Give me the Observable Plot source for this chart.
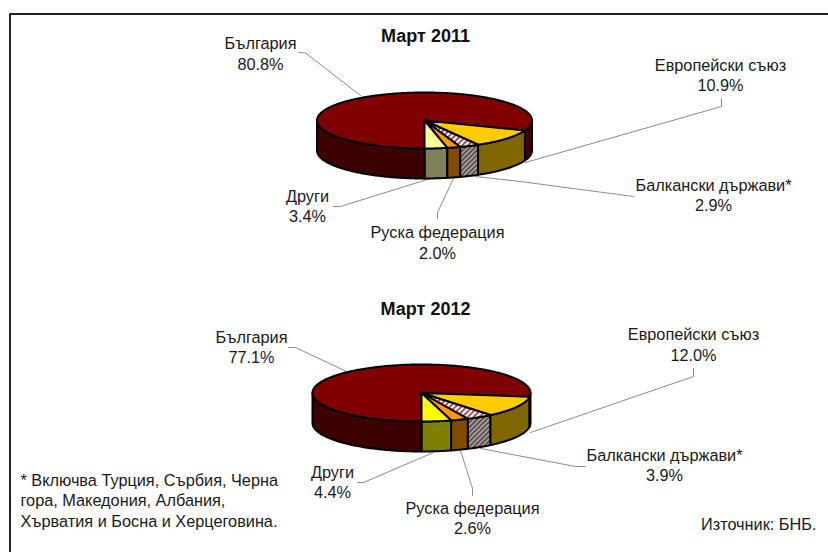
<!DOCTYPE html>
<html>
<head>
<meta charset="utf-8">
<style>
html,body{margin:0;padding:0;background:#fff;overflow:hidden}
svg{display:block}
</style>
<script src="https://cdn.jsdelivr.net/npm/d3@7"></script>
<script src="https://cdn.jsdelivr.net/npm/@observablehq/plot@0.6"></script>
</head>
<body>
<script>
// ---- data ----
const categories = ["Други", "Руска федерация", "Балкански държави*", "Европейски съюз", "България"];
const values2011 = [3.4, 2.0, 2.9, 10.9, 80.8];
const values2012 = [4.4, 2.6, 3.9, 12.0, 77.1];
const titles = ["Март 2011", "Март 2012"];
const footnote = "* Включва Турция, Сърбия, Черна\nгора, Македония, Албания,\nХърватия и Босна и Херцеговина.";
const source = "Източник: БНБ.";

// ---- styles ----
const topColors2011 = ["#FFFF99", "#FF9900", "url(#hatchTop)", "#FFCC00", "#800000"];
const sideColors2011 = ["#80805A", "#804C00", "url(#hatchSide)", "#806600", "#3D0000"];
const topColors2012 = ["#FFFF00", "#FF9900", "url(#hatchTop)", "#FFCC00", "#800000"];
const sideColors2012 = ["#808000", "#804C00", "url(#hatchSide)", "#806600", "#3D0000"];

// ---- layout ----
const pies = [
  {cx: 424, cy: 120, rx: 107.5, ry: 28, depth: 30},
  {cx: 421, cy: 392.5, rx: 109, ry: 28.5, depth: 30}
];
const titlePos = [[425, 36], [425, 309]];
const labelPos2011 = [[307, 205], [437, 241.5], [713, 194], [720, 74], [260, 52.5]];
const labelPos2012 = [[332, 481], [472, 517], [664, 464], [693, 343.5], [251, 346]];
const leaders2011 = [
  [[333, 206], [340, 206], [430, 178]],
  [[437, 218], [437, 212], [453, 178]],
  [[633, 196], [520, 181], [475, 176]],
  [[721, 98], [721, 106], [525, 162]],
  [[298, 52], [305, 52.5], [360, 95]]
];
const leaders2012 = [
  [[357, 482], [363, 482], [433, 452]],
  [[472, 495], [472, 488], [460, 450]],
  [[585, 466], [575, 466], [480, 448]],
  [[693, 368], [693, 376], [530, 432]],
  [[288, 347], [295, 347], [346, 371]]
];

// ---- geometry derived from the values ----
const TAU = 2 * Math.PI, STEP = TAU / 360;
function arcAngles(a0, a1) {
  const n = Math.max(1, Math.ceil((a1 - a0) / STEP));
  return d3.range(n + 1).map(i => a0 + (a1 - a0) * i / n);
}
function rimPoint(p, a, dy = 0) {
  return {x: p.cx + p.rx * Math.sin(a), y: p.cy + p.ry * Math.cos(a) + dy};
}
function slices(values) {
  const total = d3.sum(values);
  let acc = 0;
  return values.map(v => {
    const a0 = acc / total * TAU;
    acc += v;
    return [a0, acc / total * TAU];
  });
}
function topPolygon(p, a0, a1) {
  const c = {x: p.cx, y: p.cy};
  return [c, ...arcAngles(a0, a1).map(a => rimPoint(p, a)), c];
}
function sidePolygon(p, a0, a1) {
  const as = arcAngles(a0, a1);
  const up = as.map(a => rimPoint(p, a));
  const down = as.slice().reverse().map(a => rimPoint(p, a, p.depth));
  return [...up, ...down, up[0]];
}
function sideRanges(a0, a1) {
  // the visible wall is the front half: angles in [0, PI/2] and [3PI/2, 2PI]
  const out = [];
  const r1 = [Math.max(a0, 0), Math.min(a1, TAU / 4)];
  const r2 = [Math.max(a0, 3 * TAU / 4), Math.min(a1, TAU)];
  if (r1[1] > r1[0]) out.push(r1);
  if (r2[1] > r2[0]) out.push(r2);
  return out;
}
const edge = {x: "x", y: "y", stroke: "#000", strokeWidth: 2, strokeLinejoin: "round"};
function pieMarks(p, values, topColors, sideColors) {
  const s = slices(values), marks = [];
  s.forEach(([a0, a1], i) => {
    sideRanges(a0, a1).forEach(([b0, b1]) => {
      marks.push(Plot.line(sidePolygon(p, b0, b1), {...edge, fill: sideColors[i]}));
    });
  });
  s.slice().reverse().forEach(([a0, a1], j) => {
    const i = s.length - 1 - j;
    marks.push(Plot.line(topPolygon(p, a0, a1), {...edge, fill: topColors[i]}));
  });
  return marks;
}
const leaderMarks = ls => ls.map(l => Plot.line(l.map(([x, y]) => ({x, y})), {
  x: "x", y: "y", stroke: "#8c8c8c", strokeWidth: 1
}));
const labelRows = (vals, pos) => categories.map((c, i) => ({
  x: pos[i][0], y: pos[i][1], t: `${c}\n${vals[i].toFixed(1)}%`
}));
const labelOpts = {x: "x", y: "y", text: "t", fontSize: 16.3, lineHeight: 1.26, fill: "#1a1a1a",
  fontFamily: "Liberation Sans"};

const patterns = () => {
  const defs = document.createElementNS("http://www.w3.org/2000/svg", "defs");
  defs.innerHTML = `
  <pattern id="hatchTop" width="4" height="4" patternUnits="userSpaceOnUse" patternTransform="rotate(45)">
    <rect width="4" height="4" fill="#fff"/><rect width="2" height="4" fill="#b05050"/>
  </pattern>
  <pattern id="hatchSide" width="3.4" height="3.4" patternUnits="userSpaceOnUse" patternTransform="rotate(45)">
    <rect width="3.4" height="3.4" fill="#a8a0a0"/><rect width="1.7" height="3.4" fill="#5c4c4c"/>
  </pattern>`;
  return defs;
};

const chart = Plot.plot({
  width: 828,
  height: 552,
  margin: 0,
  x: {domain: [0, 828], range: [0, 828], axis: null},
  y: {domain: [0, 552], range: [0, 552], axis: null},
  style: {background: "#fff", fontFamily: "Liberation Sans"},
  marks: [
    patterns,
    ...leaderMarks(leaders2011),
    ...leaderMarks(leaders2012),
    ...pieMarks(pies[0], values2011, topColors2011, sideColors2011),
    ...pieMarks(pies[1], values2012, topColors2012, sideColors2012),
    Plot.text(titles.map((t, i) => ({t, x: titlePos[i][0], y: titlePos[i][1]})), {
      x: "x", y: "y", text: "t", fontSize: 18, fontWeight: "bold", fill: "#111", fontFamily: "Liberation Sans"
    }),
    Plot.text(labelRows(values2011, labelPos2011), labelOpts),
    Plot.text(labelRows(values2012, labelPos2012), labelOpts),
    Plot.text([{x: 20, y: 499.5, t: footnote}], {...labelOpts, textAnchor: "start", lineHeight: 1.24}),
    Plot.text([{x: 816, y: 522.5, t: source}], {...labelOpts, textAnchor: "end"}),
    Plot.ruleX([9.5], {y1: 13.5, y2: 552, stroke: "#222", strokeWidth: 2}),
    Plot.ruleY([13.5], {x1: 9.5, x2: 828, stroke: "#222", strokeWidth: 2})
  ]
});
document.body.append(chart);
</script>
</body>
</html>
